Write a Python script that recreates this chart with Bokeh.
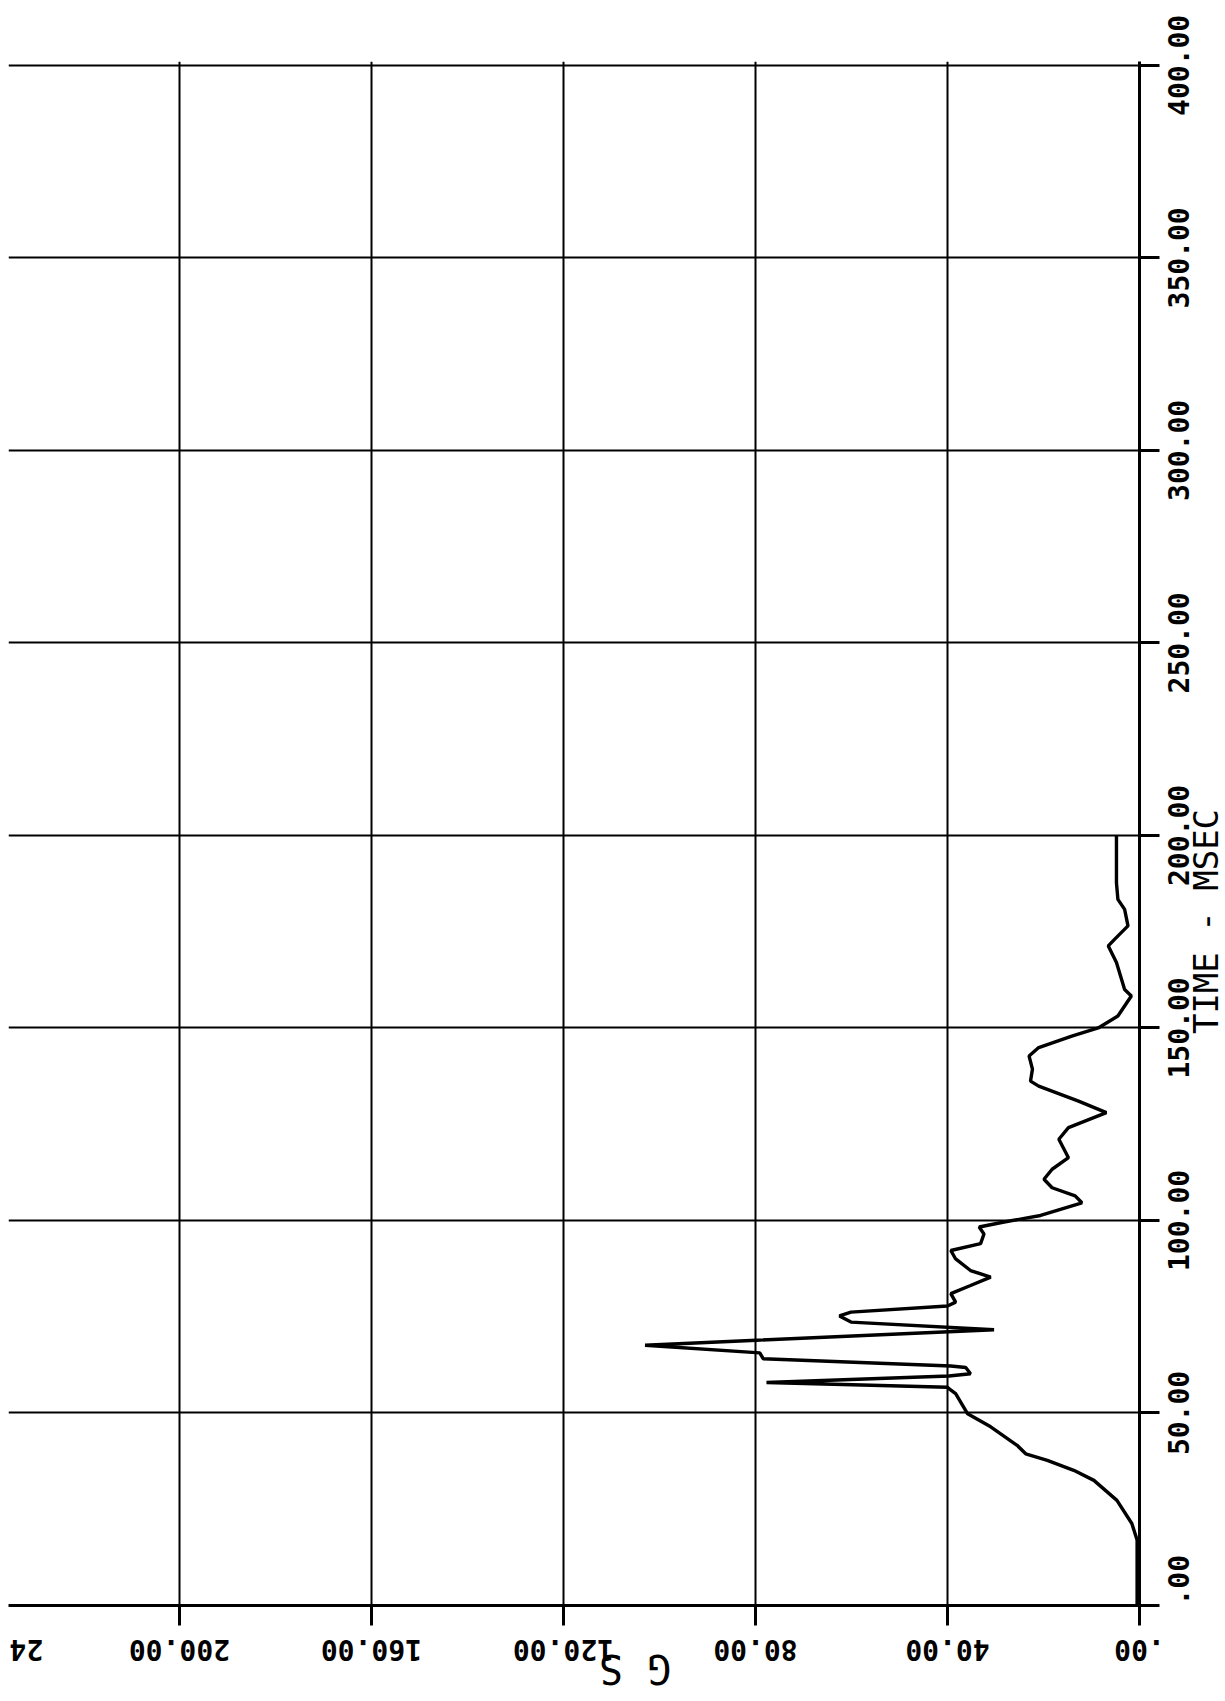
from math import pi
from bokeh.plotting import figure
from bokeh.models import Range1d, FixedTicker, LinearAxis
from bokeh.embed import file_html
from bokeh.resources import INLINE

# --- data ---
time_ms = [0, 10, 17, 21.3, 27.3, 32.5, 35.1, 37.7, 39.4, 41.6, 46.4, 49.8,
           55.0, 56.3, 56.7, 57.9, 59.6, 60.2, 61.8, 62.2, 64.1, 65.6, 67.6,
           68.9, 71.6, 73.6, 75.2, 76.2, 77.8, 78.8, 81.0, 83.1, 85.3, 87.0,
           90.0, 92.2, 94.0, 96.5, 98.3, 99.6, 101.3, 104.6, 106.4, 108.5,
           110.7, 113.3, 116.3, 121.1, 124.1, 128.0, 131.0, 134.9, 136.2,
           139.3, 142.7, 144.9, 147.9, 150.0, 153.1, 158.3, 160.0, 167.0,
           171.3, 173.0, 176.5, 180.8, 183.4, 187.7, 199.9]
g_values = [0.5, 0.5, 0.5, 1.6, 4.7, 9.5, 13.7, 19.2, 23.7, 25.5, 31.0, 35.8,
            38.3, 39.7, 40.0, 77.7, 39.7, 35.2, 36.2, 39.3, 78.4, 79.1, 103.0,
            79.8, 30.3, 60.1, 62.5, 60.1, 40.0, 38.3, 39.3, 35.2, 31.0, 35.2,
            38.3, 39.3, 33.1, 32.4, 33.4, 28.2, 20.6, 12.0, 13.4, 18.2,
            19.9, 18.2, 14.8, 16.8, 14.8, 6.9, 12.7, 21.0, 22.7,
            22.3, 23.0, 21.0, 14.1, 8.6, 4.5, 1.7, 3.1, 4.8,
            6.5, 5.2, 2.4, 3.1, 4.5, 4.8, 4.8]

time_ticks = [0, 50, 100, 150, 200, 250, 300, 350, 400]
time_tick_labels = [".00", "50.00", "100.00", "150.00", "200.00",
                    "250.00", "300.00", "350.00", "400.00"]
g_ticks = [0, 40, 80, 120, 160, 200]
g_tick_labels = [".00", "40.00", "80.00", "120.00", "160.00", "200.00"]
g_cut_label = "24"          # the 240.00 label, cut by the page edge
time_title = "TIME - MSEC"
g_title = "G S"

# --- layout constants ---
G_MAX, T_MAX = 235.6, 401.0
LEFT, RIGHT_EDGE, TOP, BOTTOM_EDGE = 8, 1139, 61, 1605
PX_G = (RIGHT_EDGE - LEFT) / G_MAX
PX_T = (BOTTOM_EDGE - TOP) / T_MAX
MONO = "DejaVu Sans Mono"
ADV = 0.602
EM_H = 1.164               # ascent + descent of DejaVu Sans Mono, in em
TICK_FS, TITLE_FS_T, TITLE_FS_G = 28, 34, 40
TICK_LEN = 20

p = figure(frame_width=RIGHT_EDGE - LEFT, frame_height=BOTTOM_EDGE - TOP,
           x_range=Range1d(G_MAX, 0), y_range=Range1d(0, T_MAX),
           y_axis_location="right", x_axis_location="below",
           output_backend="svg", toolbar_location=None,
           min_border_left=LEFT, min_border_top=TOP,
           min_border_right=0, min_border_bottom=0)
p.outline_line_color = None
p.background_fill_color = "white"
p.border_fill_color = "white"

for grid, ticks in ((p.xgrid, g_ticks), (p.ygrid, time_ticks)):
    grid.ticker = FixedTicker(ticks=ticks)
    grid.grid_line_color = "black"
    grid.grid_line_width = 2
    grid.grid_line_alpha = 1.0

# tick-only main axes (no labels drawn)
for ax, ticks in ((p.xaxis[0], g_ticks), (p.yaxis[0], time_ticks)):
    ax.ticker = FixedTicker(ticks=ticks)
    ax.major_tick_out = TICK_LEN
    ax.major_tick_in = 0
    ax.minor_tick_out = 0
    ax.minor_tick_in = 0
    ax.axis_line_width = 3
    ax.axis_line_color = "black"
    ax.major_tick_line_width = 3
    ax.major_tick_line_color = "black"
    ax.major_label_text_font_size = "0px"
    ax.major_label_text_color = None
    ax.major_label_standoff = 0


def label_axis(positions, labels, orient, standoff, size, bold):
    ax = LinearAxis(ticker=FixedTicker(ticks=positions),
                    major_label_overrides=dict(zip(positions, labels)),
                    major_label_orientation=orient,
                    major_label_standoff=int(round(standoff)),
                    major_tick_out=0, major_tick_in=0,
                    minor_tick_out=0, minor_tick_in=0,
                    axis_line_color=None, major_tick_line_color=None,
                    minor_tick_line_color=None)
    ax.major_label_text_font = MONO
    ax.major_label_text_font_size = f"{size}px"
    ax.major_label_text_font_style = "bold" if bold else "normal"
    ax.major_label_text_color = "black"
    return ax


def g_anchor(center, text, size):
    return round(center + len(text) * ADV * size / 2 / PX_G, 3)


def t_anchor(center, text, size):
    return round(max(center - len(text) * ADV * size / 2 / PX_T, 0.0), 3)


# bottom: G tick labels (upside down) and the cut "24", then the title
g_pos = [g_anchor(g, s, TICK_FS) for g, s in zip(g_ticks, g_tick_labels)]
g_pos.append(round(G_MAX - 0.2, 3))
g_labs = g_tick_labels + [g_cut_label]
s_lab = 1650 - BOTTOM_EDGE - TICK_LEN
p.add_layout(label_axis(g_pos, g_labs, pi, s_lab, TICK_FS, True), "below")
used = TICK_LEN + s_lab + EM_H * TICK_FS
g_title_center = (RIGHT_EDGE - 634.5) / PX_G
p.add_layout(label_axis([g_anchor(g_title_center, g_title, TITLE_FS_G)],
                        [g_title], pi, (1677 - BOTTOM_EDGE) - used,
                        TITLE_FS_G, False), "below")

# right: time tick labels (reading upward), then the title
t_pos = [t_anchor(t, s, TICK_FS) for t, s in zip(time_ticks, time_tick_labels)]
s_lab_r = 1178 - RIGHT_EDGE - TICK_LEN
p.add_layout(label_axis(t_pos, time_tick_labels, pi / 2, s_lab_r,
                        TICK_FS, True), "right")
used_r = TICK_LEN + s_lab_r + EM_H * TICK_FS - 9
t_title_center = (BOTTOM_EDGE - 921) / PX_T
p.add_layout(label_axis([t_anchor(t_title_center, time_title, TITLE_FS_T)],
                        [time_title], pi / 2, (1206 - RIGHT_EDGE) - used_r,
                        TITLE_FS_T, False), "right")

p.line(g_values, time_ms, line_width=3.4, line_color="black")

open("out.html", "w").write(file_html(p, INLINE))
